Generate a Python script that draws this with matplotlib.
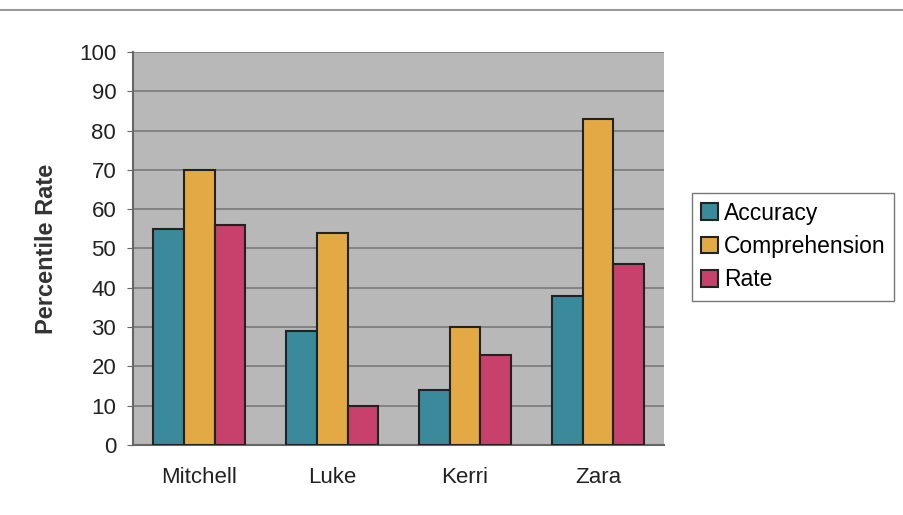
import matplotlib.pyplot as plt
import numpy as np
from matplotlib.lines import Line2D

plt.rcParams['font.family'] = ['Liberation Sans', 'DejaVu Sans']

names = ["Mitchell", "Luke", "Kerri", "Zara"]
accuracy = [55, 29, 14, 38]
comprehension = [70, 54, 30, 83]
rate = [56, 10, 23, 46]

series = [("Accuracy", accuracy, "#3b8a9c"),
          ("Comprehension", comprehension, "#e3a945"),
          ("Rate", rate, "#c7416c")]

fig = plt.figure(figsize=(9.04, 5.15), dpi=100)
ax = fig.add_axes([0.147, 0.136, 0.588, 0.763])
ax.set_facecolor("#b8b8b8")

x = np.arange(len(names))
w = 0.23
for i, (lab, vals, col) in enumerate(series):
    ax.bar(x + (i - 1) * w, vals, w, color=col, edgecolor="#222222",
           linewidth=1.5, label=lab, zorder=3)

ax.set_xlim(-0.5, 3.5)
ax.set_ylim(0, 100)
ax.set_yticks(range(0, 101, 10))
ax.set_xticks(x)
ax.set_xticklabels(names)
ax.yaxis.grid(True, color="#7a7a7a", linewidth=1.2, zorder=0)
ax.tick_params(axis="both", labelsize=16, color="#666666", labelcolor="#222222")
ax.tick_params(axis="x", length=0, pad=16)
ax.tick_params(axis="y", length=4, pad=8)
for s in ["top", "right"]:
    ax.spines[s].set_visible(False)
ax.spines["left"].set_color("#666666")
ax.spines["left"].set_linewidth(1.5)
ax.spines["bottom"].set_color("#666666")
ax.spines["bottom"].set_linewidth(1.5)
ax.set_ylabel("Percentile Rate", fontsize=17, fontweight="bold", labelpad=15,
              color="#333333")

leg = fig.legend(loc="upper left", bbox_to_anchor=(0.765, 0.626), fontsize=16.5,
                 frameon=True, fancybox=False, edgecolor="#555555",
                 handlelength=0.75, handleheight=0.75, handletextpad=0.25,
                 borderpad=0.4, labelspacing=0.45, borderaxespad=0)
leg.get_frame().set_linewidth(1.0)

fig.add_artist(Line2D([0, 1], [0.981, 0.981], color="#999999", linewidth=1.5,
                      transform=fig.transFigure))

fig.savefig("out.png", dpi=100)
